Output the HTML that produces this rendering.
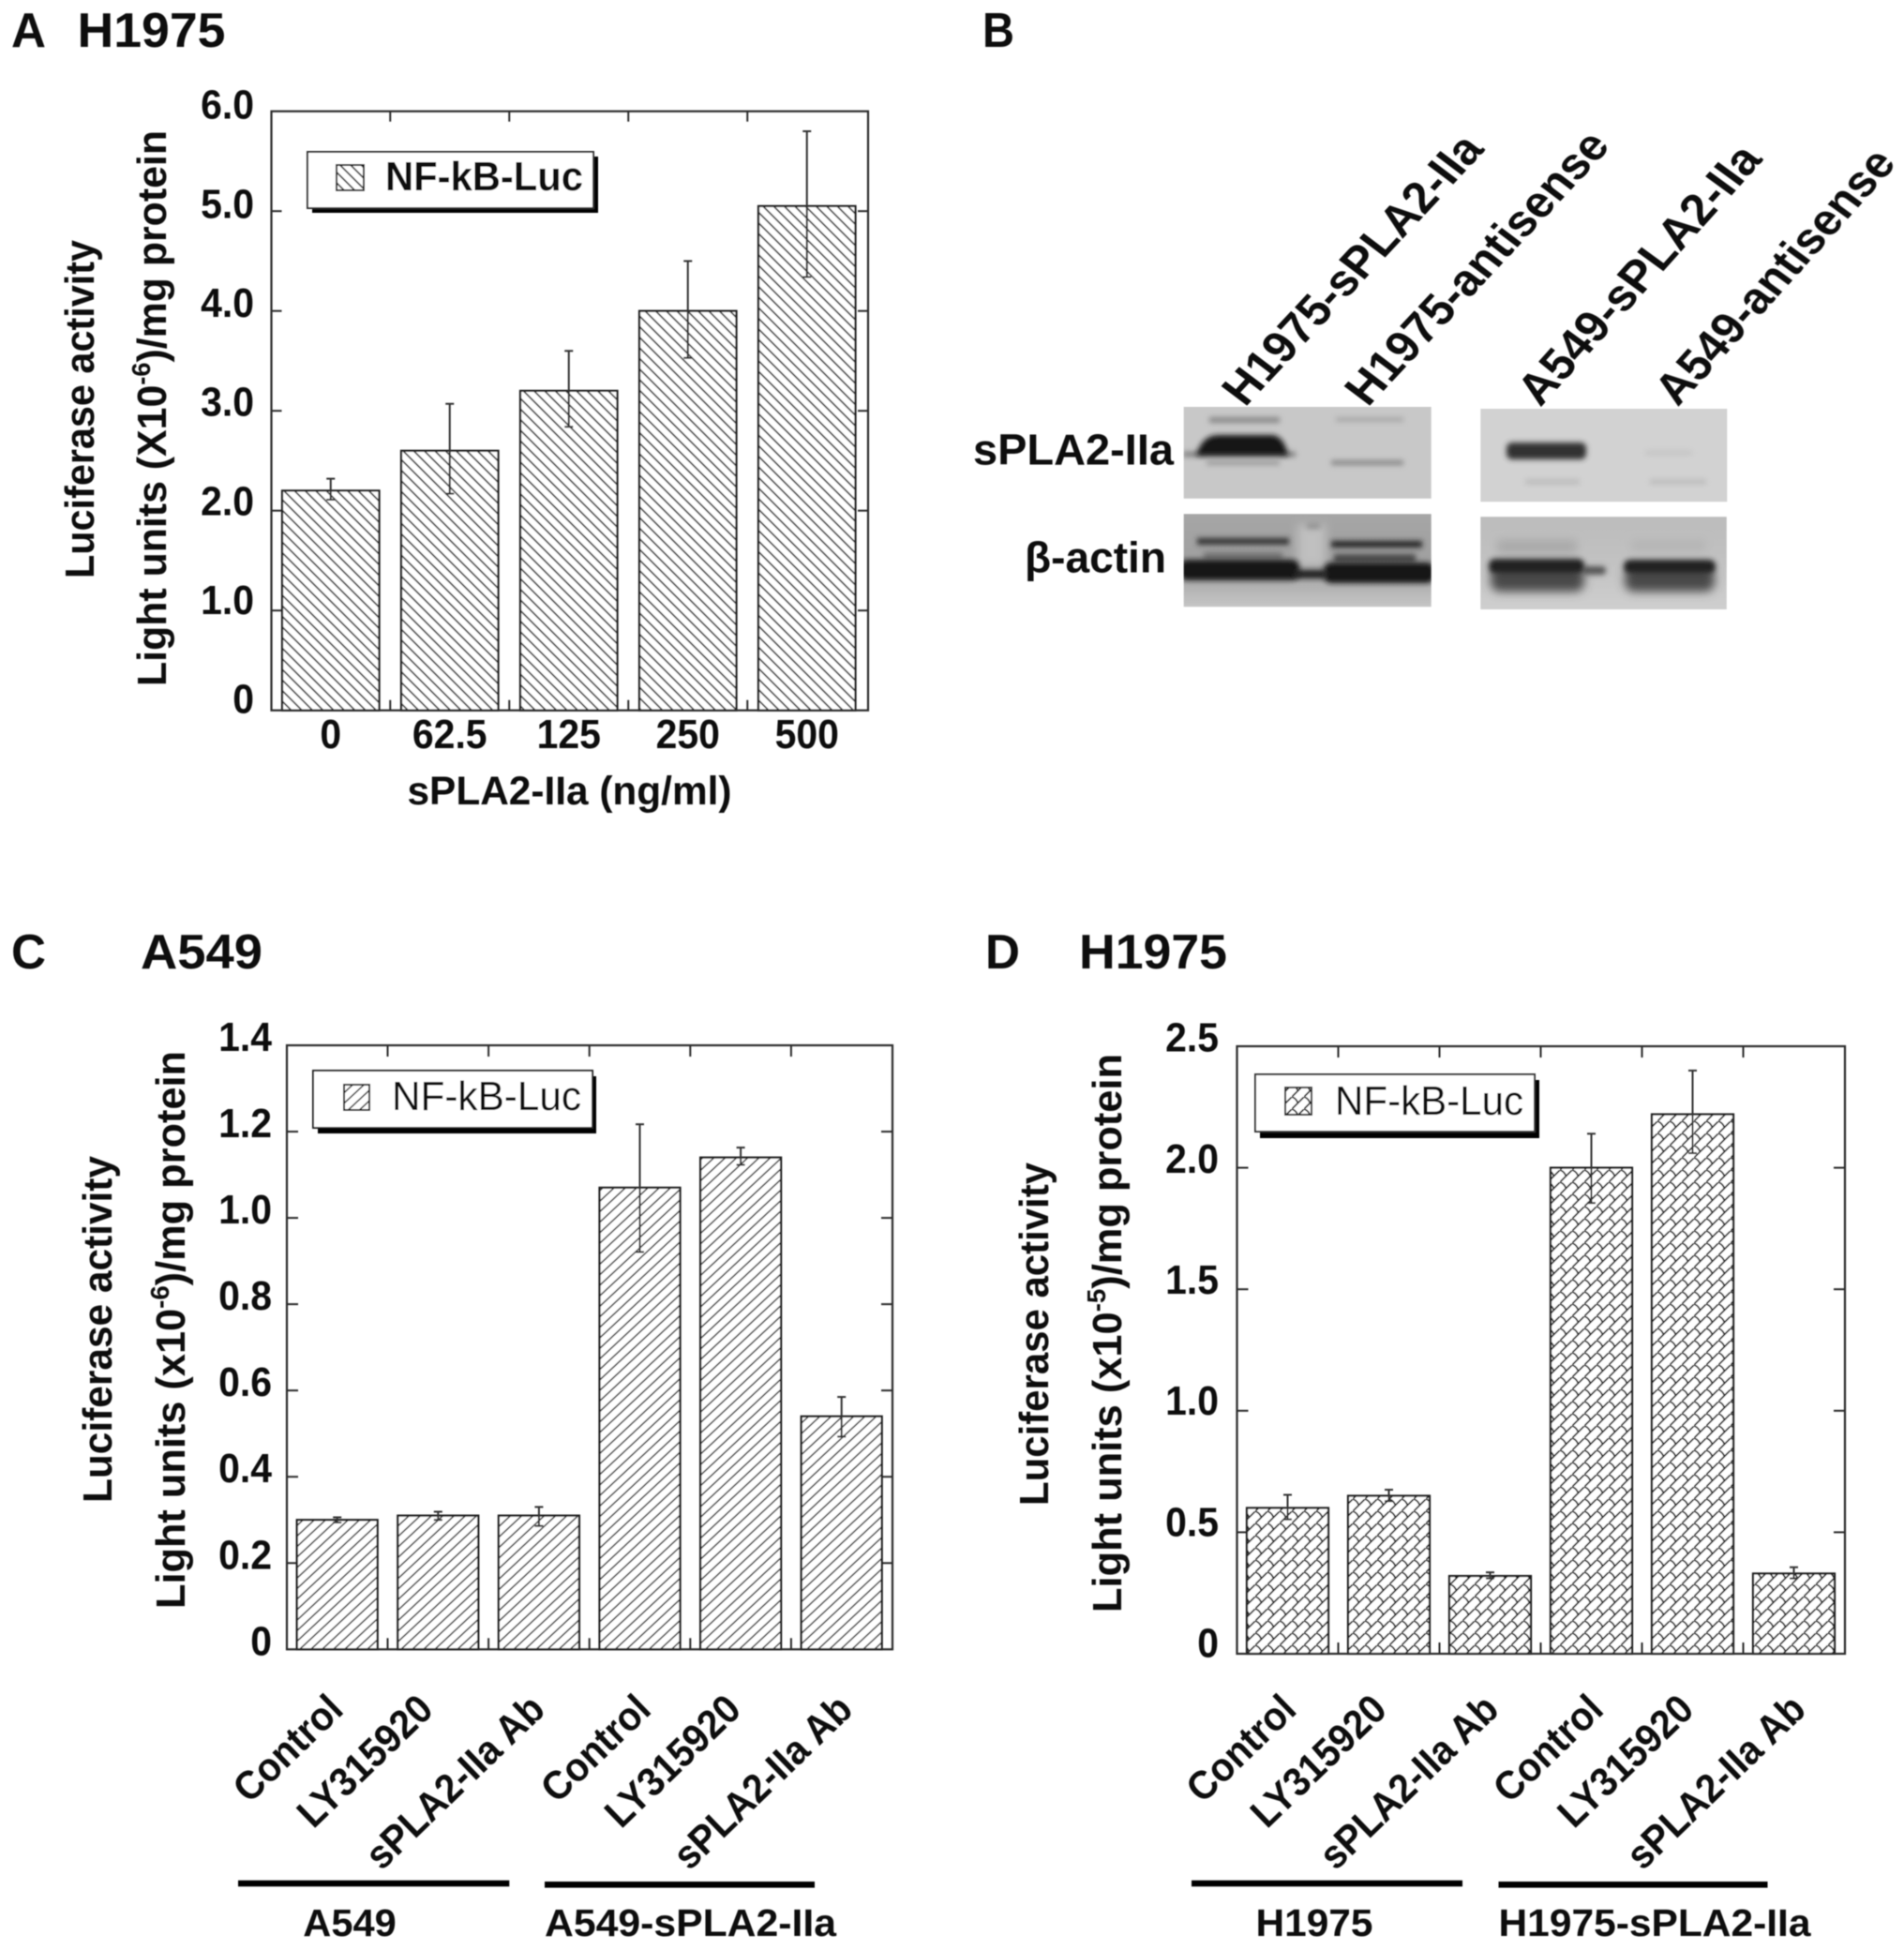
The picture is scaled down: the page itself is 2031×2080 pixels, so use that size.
<!DOCTYPE html>
<html lang="en">
<head>
<meta charset="utf-8">
<title>NF-kB luciferase activity and sPLA2-IIa western blots</title>
<style>
html,body{margin:0;padding:0;background:#fff;}
svg{display:block;}
text{font-family:"Liberation Sans",sans-serif;fill:#111;}
.b{font-weight:bold;}
</style>
</head>
<body>
<svg id="fig" xmlns="http://www.w3.org/2000/svg" width="2031" height="2080" viewBox="0 0 2031 2080">
<defs>
<pattern id="hatch-a" width="8" height="8" patternUnits="userSpaceOnUse" patternTransform="rotate(45)">
  <line x1="0" y1="4" x2="8" y2="4" stroke="#222" stroke-width="1.5"/>
</pattern>
<pattern id="hatch-c" width="8.2" height="8.2" patternUnits="userSpaceOnUse" patternTransform="rotate(-43)">
  <line x1="0" y1="4" x2="8.2" y2="4" stroke="#222" stroke-width="1.4"/>
</pattern>
<pattern id="hatch-d" width="13" height="13" patternUnits="userSpaceOnUse">
  <path d="M-1,14 L14,-1" fill="none" stroke="#1c1c1c" stroke-width="1.7"/>
  <path d="M0,0 Q4.5,1.5 6.5,6.5" fill="none" stroke="#1c1c1c" stroke-width="1.7"/>
</pattern>
<filter id="soft" x="-2%" y="-2%" width="104%" height="104%"><feGaussianBlur stdDeviation="0.55"/></filter>
<filter id="band-blur" x="-30%" y="-150%" width="160%" height="400%"><feGaussianBlur stdDeviation="2.8"/></filter>
<filter id="band-blur-wide" x="-30%" y="-150%" width="160%" height="400%"><feGaussianBlur stdDeviation="5"/></filter>
<linearGradient id="actin-bg" x1="0" y1="0" x2="0" y2="1">
  <stop offset="0" stop-color="#a6a6a6"/><stop offset="0.5" stop-color="#a0a0a0"/><stop offset="0.78" stop-color="#b2b2b2"/><stop offset="1" stop-color="#c6c6c6"/>
</linearGradient>
<linearGradient id="actin-bg2" x1="0" y1="0" x2="0" y2="1">
  <stop offset="0" stop-color="#bcbcbc"/><stop offset="0.5" stop-color="#c2c2c2"/><stop offset="1" stop-color="#cfcfcf"/>
</linearGradient>
<clipPath id="clip-b1"><rect x="1262.7" y="434" width="264" height="97.7"/></clipPath>
<clipPath id="clip-b2"><rect x="1579.3" y="436" width="263" height="99.3"/></clipPath>
<clipPath id="clip-b3"><rect x="1262.7" y="548.3" width="264" height="99"/></clipPath>
<clipPath id="clip-b4"><rect x="1579.3" y="551.3" width="262.5" height="98.7"/></clipPath>
</defs>

<rect x="0" y="0" width="2031" height="2080" fill="#ffffff"/>

<g id="root" filter="url(#soft)">

<!-- Panel letters and titles -->
<text class="b" x="12" y="50" font-size="52" textLength="37" lengthAdjust="spacingAndGlyphs">A</text>
<text class="b" x="82.5" y="50" font-size="52" textLength="158" lengthAdjust="spacingAndGlyphs">H1975</text>
<text class="b" x="1048" y="50" font-size="52" textLength="34" lengthAdjust="spacingAndGlyphs">B</text>
<text class="b" x="12" y="1033" font-size="52" textLength="37" lengthAdjust="spacingAndGlyphs">C</text>
<text class="b" x="150" y="1033" font-size="52" textLength="130" lengthAdjust="spacingAndGlyphs">A549</text>
<text class="b" x="1051" y="1033" font-size="52" textLength="37" lengthAdjust="spacingAndGlyphs">D</text>
<text class="b" x="1151" y="1033" font-size="52" textLength="158" lengthAdjust="spacingAndGlyphs">H1975</text>

<!-- Axis titles -->
<text class="b" transform="translate(100,617) rotate(-90)" font-size="44" textLength="361" lengthAdjust="spacingAndGlyphs">Luciferase activity</text>
<text class="b" transform="translate(177,732) rotate(-90)" font-size="44" textLength="593" lengthAdjust="spacingAndGlyphs">Light units (X10<tspan dy="-17" font-size="28">-6</tspan><tspan dy="17">)/mg protein</tspan></text>
<text class="b" x="434.5" y="858" font-size="43" textLength="346" lengthAdjust="spacingAndGlyphs">sPLA2-IIa (ng/ml)</text>

<text class="b" transform="translate(119,1603) rotate(-90)" font-size="44" textLength="370" lengthAdjust="spacingAndGlyphs">Luciferase activity</text>
<text class="b" transform="translate(197,1716) rotate(-90)" font-size="44" textLength="595" lengthAdjust="spacingAndGlyphs">Light units (x10<tspan dy="-17" font-size="28">-6</tspan><tspan dy="17">)/mg protein</tspan></text>

<text class="b" transform="translate(1118,1606) rotate(-90)" font-size="44" textLength="366" lengthAdjust="spacingAndGlyphs">Luciferase activity</text>
<text class="b" transform="translate(1196,1720) rotate(-90)" font-size="44" textLength="596" lengthAdjust="spacingAndGlyphs">Light units (x10<tspan dy="-17" font-size="28">-5</tspan><tspan dy="17">)/mg protein</tspan></text>

<!-- Chart layers filled by script -->
<g id="panel-a"></g>
<g id="panel-c"></g>
<g id="panel-d"></g>

<!-- Legends -->
<g>
  <rect x="333" y="167" width="305" height="60" fill="#000"/>
  <rect x="328" y="162" width="305" height="60" fill="#fff" stroke="#333" stroke-width="2"/>
  <rect x="359" y="176" width="29" height="27" fill="url(#hatch-a)" stroke="#222" stroke-width="2"/>
  <text class="b" x="411" y="203" font-size="44" textLength="211" lengthAdjust="spacingAndGlyphs">NF-kB-Luc</text>
</g>
<g>
  <rect x="339" y="1148" width="297" height="61" fill="#000"/>
  <rect x="334" y="1142" width="298" height="61" fill="#fff" stroke="#222" stroke-width="2"/>
  <rect x="367" y="1157" width="27" height="27" fill="url(#hatch-c)" stroke="#222" stroke-width="2"/>
  <text x="418" y="1184" font-size="44" textLength="202" lengthAdjust="spacingAndGlyphs">NF-kB-Luc</text>
</g>
<g>
  <rect x="1344" y="1152" width="298" height="62" fill="#000"/>
  <rect x="1339" y="1146" width="298" height="61" fill="#fff" stroke="#333" stroke-width="2"/>
  <rect x="1371" y="1160" width="28" height="29" fill="url(#hatch-d)" stroke="#222" stroke-width="2"/>
  <text x="1424" y="1189" font-size="44" textLength="201" lengthAdjust="spacingAndGlyphs">NF-kB-Luc</text>
</g>

<!-- Group underlines and labels -->
<rect x="254" y="2005.7" width="289.3" height="6.6" fill="#000"/>
<rect x="581" y="2007" width="288" height="6.6" fill="#000"/>
<text class="b" x="323.3" y="2065" font-size="41" textLength="99.4" lengthAdjust="spacingAndGlyphs">A549</text>
<text class="b" x="581" y="2065" font-size="41" textLength="311" lengthAdjust="spacingAndGlyphs">A549-sPLA2-IIa</text>
<rect x="1271" y="2005.7" width="289" height="6.6" fill="#000"/>
<rect x="1598.5" y="2007" width="287" height="6.6" fill="#000"/>
<text class="b" x="1339.5" y="2065" font-size="41" textLength="125" lengthAdjust="spacingAndGlyphs">H1975</text>
<text class="b" x="1598.5" y="2065" font-size="41" textLength="333" lengthAdjust="spacingAndGlyphs">H1975-sPLA2-IIa</text>

<!-- Panel B blots -->
<g>
  <g clip-path="url(#clip-b1)">
    <rect x="1262" y="434" width="265" height="98" fill="#c8c8c8"/>
    <rect x="1290" y="445" width="75" height="6" fill="#888" filter="url(#band-blur)"/>
    <rect x="1262" y="482" width="120" height="5" fill="#777" filter="url(#band-blur)"/>
    <path d="M1276,486 Q1282,464 1300,464 L1358,464 Q1370,466 1374,486 Z" fill="#161616" filter="url(#band-blur)"/>
    <rect x="1287" y="491" width="78" height="5" fill="#9a9a9a" filter="url(#band-blur)"/>
    <rect x="1425" y="445" width="72" height="5" fill="#a8a8a8" filter="url(#band-blur)"/>
    <rect x="1420" y="491" width="77" height="5" fill="#868686" filter="url(#band-blur)"/>
  </g>
  <g clip-path="url(#clip-b2)">
    <rect x="1579" y="436" width="264" height="100" fill="#d2d2d2"/>
    <rect x="1607" y="472" width="85" height="18" rx="6" fill="#303030" filter="url(#band-blur)"/>
    <rect x="1627" y="511" width="58" height="6" fill="#bdbdbd" filter="url(#band-blur)"/>
    <rect x="1760" y="511" width="60" height="6" fill="#bebebe" filter="url(#band-blur)"/>
    <rect x="1755" y="480" width="50" height="6" fill="#c6c6c6" filter="url(#band-blur)"/>
  </g>
  <g clip-path="url(#clip-b3)">
    <rect x="1262" y="548" width="265" height="100" fill="url(#actin-bg)"/>
    <rect x="1384" y="560" width="30" height="44" fill="#c0c0c0" filter="url(#band-blur-wide)"/>
    <rect x="1394" y="558" width="14" height="6" fill="#929292" filter="url(#band-blur)"/>
    <rect x="1277" y="574" width="98" height="7" fill="#303030" filter="url(#band-blur)"/>
    <rect x="1420" y="577" width="97" height="7" fill="#202020" filter="url(#band-blur)"/>
    <rect x="1284" y="589" width="84" height="8" fill="#737373" filter="url(#band-blur)"/>
    <rect x="1423" y="591" width="87" height="9" fill="#484848" filter="url(#band-blur)"/>
    <rect x="1258" y="597" width="128" height="22" rx="8" fill="#141414" filter="url(#band-blur)"/>
    <rect x="1412" y="600" width="118" height="22" rx="8" fill="#141414" filter="url(#band-blur)"/>
    <rect x="1380" y="608" width="36" height="9" rx="4" fill="#1c1c1c" filter="url(#band-blur)"/>
  </g>
  <g clip-path="url(#clip-b4)">
    <rect x="1579" y="551" width="264" height="99" fill="url(#actin-bg2)"/>
    <rect x="1597" y="576" width="85" height="14" fill="#a8a8a8" filter="url(#band-blur-wide)"/>
    <rect x="1740" y="576" width="80" height="12" fill="#b4b4b4" filter="url(#band-blur-wide)"/>
    <rect x="1590" y="606" width="100" height="25" rx="10" fill="#484848" filter="url(#band-blur-wide)"/>
    <rect x="1733" y="606" width="96" height="25" rx="10" fill="#484848" filter="url(#band-blur-wide)"/>
    <rect x="1688" y="604" width="25" height="9" rx="4" fill="#555" filter="url(#band-blur)"/>
    <rect x="1588" y="596" width="102" height="16" rx="7" fill="#222" filter="url(#band-blur)"/>
    <rect x="1732" y="597" width="98" height="15" rx="7" fill="#222" filter="url(#band-blur)"/>
  </g>
  <text class="b" x="1038" y="495.5" font-size="46" textLength="214" lengthAdjust="spacingAndGlyphs">sPLA2-IIa</text>
  <text class="b" x="1093" y="610.5" font-size="46" textLength="151" lengthAdjust="spacingAndGlyphs" style="font-family:'Liberation Sans','DejaVu Sans',sans-serif">β-actin</text>
  <text class="b" transform="translate(1328,435) rotate(-47) skewX(6)" font-size="50" textLength="376" lengthAdjust="spacingAndGlyphs">H1975-sPLA2-IIa</text>
  <text class="b" transform="translate(1459,435) rotate(-47) skewX(6)" font-size="50" textLength="381" lengthAdjust="spacingAndGlyphs">H1975-antisense</text>
  <text class="b" transform="translate(1643,435) rotate(-48) skewX(6)" font-size="50" textLength="356" lengthAdjust="spacingAndGlyphs">A549-sPLA2-IIa</text>
  <text class="b" transform="translate(1790,435) rotate(-48) skewX(6)" font-size="50" textLength="350" lengthAdjust="spacingAndGlyphs">A549-antisense</text>
</g>
</g>
</svg>

<script>
// Panel A data
const aCategories = ['0', '62.5', '125', '250', '500'];
const aValues = [2.2, 2.6, 3.2, 4.0, 5.05];
const aErrHigh = [2.32, 3.07, 3.6, 4.5, 5.8];
const aErrLow = [2.11, 2.17, 2.84, 3.53, 4.34];
const aTickValues = [0, 1, 2, 3, 4, 5, 6];
const aTickLabels = ['0', '1.0', '2.0', '3.0', '4.0', '5.0', '6.0'];

// Panel C data
const cCategories = ['Control', 'LY315920', 'sPLA2-IIa Ab', 'Control', 'LY315920', 'sPLA2-IIa Ab'];
const cValues = [0.30, 0.31, 0.31, 1.07, 1.14, 0.54];
const cErrHigh = [0.306, 0.319, 0.33, 1.217, 1.163, 0.585];
const cErrLow = [0.294, 0.30, 0.286, 0.921, 1.123, 0.493];
const cTickValues = [0, 0.2, 0.4, 0.6, 0.8, 1.0, 1.2, 1.4];
const cTickLabels = ['0', '0.2', '0.4', '0.6', '0.8', '1.0', '1.2', '1.4'];

// Panel D data
const dCategories = ['Control', 'LY315920', 'sPLA2-IIa Ab', 'Control', 'LY315920', 'sPLA2-IIa Ab'];
const dValues = [0.60, 0.65, 0.32, 2.0, 2.22, 0.33];
const dErrHigh = [0.654, 0.675, 0.335, 2.14, 2.40, 0.356];
const dErrLow = [0.553, 0.628, 0.31, 1.855, 2.06, 0.31];
const dTickValues = [0, 0.5, 1.0, 1.5, 2.0, 2.5];
const dTickLabels = ['0', '0.5', '1.0', '1.5', '2.0', '2.5'];

const NS = 'http://www.w3.org/2000/svg';

function make(parent, tag, attrs, name) {
  const el = document.createElementNS(NS, tag);
  for (const k in attrs) el.setAttribute(k, attrs[k]);
  
  
  parent.appendChild(el);
  return el;
}

function condense(t) {
  t.setAttribute('textLength', t.getComputedTextLength() * 0.93);
  t.setAttribute('lengthAdjust', 'spacingAndGlyphs');
}

function drawPanel(o) {
  const g = document.getElementById(o.id);
  const yScale = v => o.bottom - (v / o.yMax) * (o.bottom - o.top);
  const barLeft = i => o.firstBar + o.step * i;
  const barCenter = i => barLeft(i) + o.barWidth / 2;
  const rotatedNudge = (label, i) => {
    let n = o.nudgeBase;
    n += label === 'LY315920' ? -3 : 8.5;
    if (i >= 3) n += o.nudgeGroup;
    return n;
  };
  const stroke = '#2a2a2a';

  // inward ticks on all four sides
  o.tickValues.forEach((v, i) => {
    const y = yScale(v);
    if (i > 0 && i < o.tickValues.length - 1) {
      make(g, 'line', {x1: o.left, x2: o.left + o.tick, y1: y, y2: y, stroke: stroke, 'stroke-width': 2}, 'y-tick-left');
      make(g, 'line', {x1: o.right - o.tick, x2: o.right, y1: y, y2: y, stroke: stroke, 'stroke-width': 2}, 'y-tick-right');
    }
    const dy = o.labelDyBottom + (o.labelDyTop - o.labelDyBottom) * v / o.yMax;
    const t = make(g, 'text', {x: o.labelRight, y: y + dy, 'font-size': 44, 'text-anchor': 'end', 'class': 'b'}, 'y-tick-label');
    t.textContent = o.tickLabels[i];
    condense(t);
  });
  o.categories.forEach((c, i) => {
    if (i < o.categories.length - 1) {
      const x = (barCenter(i) + barCenter(i + 1)) / 2;
      make(g, 'line', {x1: x, x2: x, y1: o.top, y2: o.top + o.tick, stroke: stroke, 'stroke-width': 2}, 'x-tick-top');
      make(g, 'line', {x1: x, x2: x, y1: o.bottom - o.tick, y2: o.bottom, stroke: stroke, 'stroke-width': 2}, 'x-tick-bottom');
    }
  });

  // bars and error bars
  o.values.forEach((v, i) => {
    const yTop = yScale(v);
    make(g, 'rect', {x: barLeft(i), y: yTop, width: o.barWidth, height: o.bottom - yTop, fill: '#fff'}, 'bar-background');
    make(g, 'rect', {x: barLeft(i), y: yTop, width: o.barWidth, height: o.bottom - yTop, fill: 'url(#' + o.hatch + ')', stroke: '#1c1c1c', 'stroke-width': 2.2}, 'bar-' + i);
    const cx = barCenter(i);
    const hi = yScale(o.errHigh[i]);
    const lo = yScale(o.errLow[i]);
    make(g, 'line', {x1: cx, x2: cx, y1: hi, y2: lo, stroke: '#333', 'stroke-width': 2}, 'error-bar-stem');
    make(g, 'line', {x1: cx - 4.5, x2: cx + 4.5, y1: hi, y2: hi, stroke: '#333', 'stroke-width': 2}, 'error-bar-cap-high');
    make(g, 'line', {x1: cx - 4.5, x2: cx + 4.5, y1: lo, y2: lo, stroke: '#333', 'stroke-width': 2}, 'error-bar-cap-low');
  });

  // plot frame
  make(g, 'rect', {x: o.left, y: o.top, width: o.right - o.left, height: o.bottom - o.top, fill: 'none', stroke: stroke, 'stroke-width': 2.2}, 'plot-frame');

  // category labels
  o.categories.forEach((c, i) => {
    if (o.rotated) {
      const x = barCenter(i) + rotatedNudge(c, i);
      const t = make(g, 'text', {transform: 'translate(' + x + ',' + o.labelY + ') rotate(-44)', 'font-size': 43, 'text-anchor': 'end', 'class': 'b'}, 'x-category-label');
      t.textContent = c;
      condense(t);
    } else {
      const t = make(g, 'text', {x: barCenter(i), y: o.labelY, 'font-size': 44, 'text-anchor': 'middle', 'class': 'b'}, 'x-category-label');
      t.textContent = c;
      condense(t);
    }
  });
}

drawPanel({id: 'panel-a', left: 289.5, right: 926, top: 118.7, bottom: 757.7, yMax: 6, firstBar: 301, step: 127, barWidth: 103.5,
  tick: 11, labelRight: 271, labelDyTop: 8, labelDyBottom: 3, labelY: 798, rotated: false, hatch: 'hatch-a',
  nudgeBase: 0, nudgeGroup: 0,
  categories: aCategories, values: aValues, errHigh: aErrHigh, errLow: aErrLow, tickValues: aTickValues, tickLabels: aTickLabels});

drawPanel({id: 'panel-c', left: 306, right: 952, top: 1115, bottom: 1759.3, yMax: 1.4, firstBar: 316.7, step: 107.6, barWidth: 86,
  tick: 12, labelRight: 290, labelDyTop: 6, labelDyBottom: 6, labelY: 1826, rotated: true, hatch: 'hatch-c',
  nudgeBase: 0, nudgeGroup: 5.5,
  categories: cCategories, values: cValues, errHigh: cErrHigh, errLow: cErrLow, tickValues: cTickValues, tickLabels: cTickLabels});

drawPanel({id: 'panel-d', left: 1319.5, right: 1968, top: 1116, bottom: 1764, yMax: 2.5, firstBar: 1330, step: 108, barWidth: 87,
  tick: 12, labelRight: 1300, labelDyTop: 5.7, labelDyBottom: 3.5, labelY: 1826, rotated: true, hatch: 'hatch-d',
  nudgeBase: 3, nudgeGroup: 3.5,
  categories: dCategories, values: dValues, errHigh: dErrHigh, errLow: dErrLow, tickValues: dTickValues, tickLabels: dTickLabels});
</script>
</body>
</html>
